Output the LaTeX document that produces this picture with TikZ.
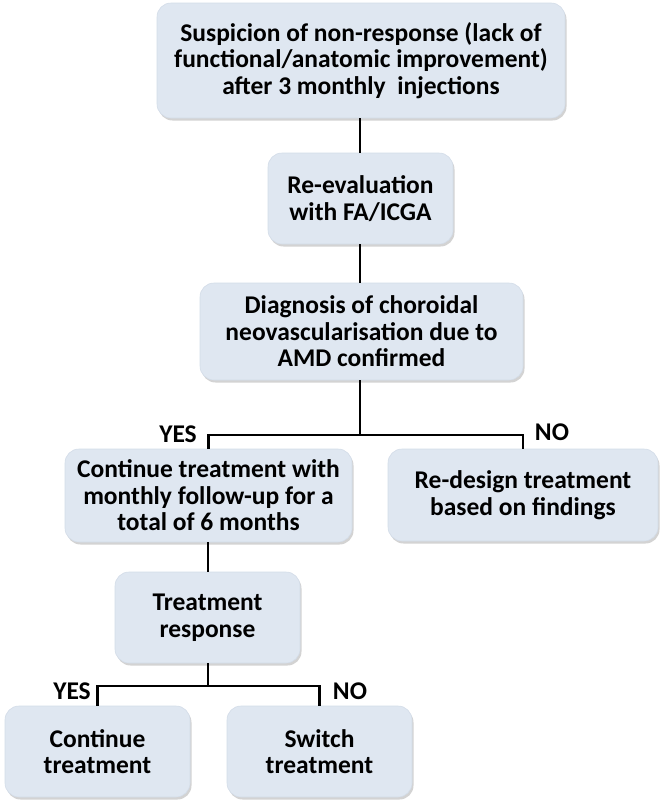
\documentclass[tikz,border=0pt]{standalone}
\usepackage{fontspec}
\setmainfont{Carlito}
\usetikzlibrary{shadows}
\definecolor{boxfill}{HTML}{DFE7F1}
\definecolor{boxline}{HTML}{D3DCE8}
\tikzset{
  box/.style={rectangle, rounded corners=14pt, fill=boxfill, draw=boxline, line width=0.6pt,
    align=center, inner sep=2pt, font=\bfseries\fontsize{25.5}{26.5}\selectfont,
    drop shadow={opacity=0.35, shadow xshift=1.5pt, shadow yshift=-2.5pt, fill=gray}},
  conn/.style={draw=black, line width=2.2pt},
  lab/.style={font=\bfseries\fontsize{25.5}{26.5}\selectfont, inner sep=0pt}
}
\begin{document}
\begin{tikzpicture}[x=1pt,y=1pt]
\useasboundingbox (0,0) rectangle (661,-806);
\node[box, minimum width=408pt, minimum height=115pt] (top) at (361,-60.5)
  {Suspicion of non-response (lack of\\functional/anatomic improvement)\\after 3 monthly\ \ injections};
\node[box, minimum width=185pt, minimum height=91pt] (reeval) at (360.5,-198.5)
  {Re-evaluation\\with FA/ICGA};
\node[box, minimum width=323pt, minimum height=97pt] (diag) at (361.5,-331.5)
  {Diagnosis of choroidal\\neovascularisation due to\\AMD confirmed};
\node[box, minimum width=287pt, minimum height=93pt] (cont) at (208.5,-495.5)
  {Continue treatment with\\monthly follow-up for a\\total of 6 months};
\node[box, minimum width=270pt, minimum height=92pt] (redesign) at (523,-495)
  {Re-design treatment\\based on findings};
\node[box, minimum width=185pt, minimum height=91pt] (resp) at (207.5,-617.5)
  {Treatment\\response};
\node[box, minimum width=185pt, minimum height=91pt] (contt) at (97.5,-751.5)
  {Continue\\treatment};
\node[box, minimum width=185pt, minimum height=91pt] (switch) at (319.5,-751.5)
  {Switch\\treatment};
\coordinate (j1) at (360,-435);
\coordinate (j2) at (208,-686);
\draw[conn] (top.south -| j1) -- (reeval.north -| j1);
\draw[conn] (reeval.south -| j1) -- (diag.north -| j1);
\draw[conn] (diag.south -| j1) -- (j1) -| (cont.north);
\draw[conn] (j1) -| (redesign.north);
\draw[conn] (cont.south -| j2) -- (resp.north -| j2);
\draw[conn] (resp.south -| j2) -- (j2) -| (contt.north);
\draw[conn] (j2) -| (switch.north);
\node[lab] (yes1) at (178,-434) {YES};
\node[lab] (no1) at (552,-432) {NO};
\node[lab] (yes2) at (72,-691) {YES};
\node[lab] (no2) at (350,-691) {NO};
\end{tikzpicture}
\end{document}
